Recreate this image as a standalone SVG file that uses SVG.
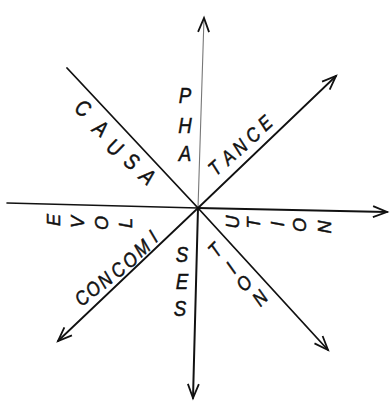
<svg xmlns="http://www.w3.org/2000/svg" width="390" height="405" viewBox="0 0 390 405">
<style>
.ln{stroke:#111;fill:none;stroke-linecap:round}
.t{font-family:"Liberation Sans",Arial,sans-serif;font-style:italic;fill:#111;stroke:#111;stroke-width:0.5;text-anchor:middle}
.b{font-size:22px}
.m{font-size:20px}
.s{font-size:18px}
</style>
<defs>
<marker id="ah" markerUnits="userSpaceOnUse" markerWidth="20" markerHeight="14" viewBox="-16 -7 20 14" refX="0" refY="0" orient="auto">
<path d="M-14,-5.5 L0,0 L-14,5.5" fill="none" stroke="#111" stroke-width="1.8"/>
</marker>
</defs>
<rect width="390" height="405" fill="#fff"/>
<g id="connectors">
<line class="ln" x1="198" y1="208" x2="204" y2="18" stroke-width="1.1" style="stroke:#777" marker-end="url(#ah)"/>
<line class="ln" x1="198" y1="208" x2="193" y2="398" stroke-width="2" marker-end="url(#ah)"/>
<line class="ln" x1="7" y1="203" x2="198" y2="208" stroke-width="1.6"/>
<line class="ln" x1="198" y1="208" x2="387" y2="212" stroke-width="2" marker-end="url(#ah)"/>
<line class="ln" x1="67" y1="68" x2="198" y2="208" stroke-width="1.8"/>
<line class="ln" x1="198" y1="208" x2="328" y2="350" stroke-width="1.8" marker-end="url(#ah)"/>
<line class="ln" x1="198" y1="208" x2="336" y2="76" stroke-width="1.8" marker-end="url(#ah)"/>
<line class="ln" x1="198" y1="208" x2="58" y2="341" stroke-width="1.8" marker-end="url(#ah)"/>
</g>
<g id="pha" class="t b">
<text transform="translate(185,95) scale(0.85,1)" y="8">P</text>
<text transform="translate(185,125) scale(0.85,1)" y="8">H</text>
<text transform="translate(185,153) scale(0.85,1)" y="8">A</text>
</g>
<g id="ses" class="t b">
<text transform="translate(182,254) scale(0.85,1)" y="8">S</text>
<text transform="translate(182,281) scale(0.85,1)" y="8">E</text>
<text transform="translate(180,308) scale(0.85,1)" y="8">S</text>
</g>
<g id="causa" class="t b">
<text transform="translate(83,108) rotate(30) scale(0.85,1)" y="8">C</text>
<text transform="translate(101,128) rotate(35) scale(0.85,1)" y="8">A</text>
<text transform="translate(115,147) rotate(35) scale(0.85,1)" y="8">U</text>
<text transform="translate(132,161) rotate(35) scale(0.85,1)" y="8">S</text>
<text transform="translate(148,176) rotate(40) scale(0.85,1)" y="8">A</text>
</g>
<g id="tance" class="t m">
<text transform="translate(215,168) rotate(-42) scale(0.85,1)" y="7">T</text>
<text transform="translate(228,157) rotate(-42) scale(0.85,1)" y="7">A</text>
<text transform="translate(240,147) rotate(-42) scale(0.85,1)" y="7">N</text>
<text transform="translate(253,135) rotate(-42) scale(0.85,1)" y="7">C</text>
<text transform="translate(265,123) rotate(-42) scale(0.85,1)" y="7">E</text>
</g>
<g id="concomi" class="t m">
<text transform="translate(82,298) rotate(-40) scale(0.85,1)" y="7">C</text>
<text transform="translate(93,289) rotate(-40) scale(0.85,1)" y="7">O</text>
<text transform="translate(105,280) rotate(-40) scale(0.85,1)" y="7">N</text>
<text transform="translate(118,270) rotate(-40) scale(0.85,1)" y="7">C</text>
<text transform="translate(130,260) rotate(-40) scale(0.85,1)" y="7">O</text>
<text transform="translate(142,248) rotate(-40) scale(0.85,1)" y="7">M</text>
<text transform="translate(153,236) rotate(-40) scale(0.85,1)" y="7">I</text>
</g>
<g id="evol" class="t s">
<text transform="translate(53,220) rotate(-90)" y="6.5">E</text>
<text transform="translate(77,222) rotate(-90)" y="6.5">V</text>
<text transform="translate(101,223) rotate(-90)" y="6.5">O</text>
<text transform="translate(125,223) rotate(-90)" y="6.5">L</text>
</g>
<g id="ution" class="t s">
<text transform="translate(232,222) rotate(-90)" y="6.5">U</text>
<text transform="translate(253,223) rotate(-90)" y="6.5">T</text>
<text transform="translate(277,224) rotate(-90)" y="6.5">I</text>
<text transform="translate(299,225) rotate(-90)" y="6.5">O</text>
<text transform="translate(324,227) rotate(-90)" y="6.5">N</text>
</g>
<g id="tion" class="t m">
<text transform="translate(215,250) rotate(-45) scale(0.85,1)" y="7">T</text>
<text transform="translate(231,268) rotate(-45) scale(0.85,1)" y="7">I</text>
<text transform="translate(244,283) rotate(-45) scale(0.85,1)" y="7">O</text>
<text transform="translate(260,298) rotate(-45) scale(0.85,1)" y="7">N</text>
</g>
</svg>
